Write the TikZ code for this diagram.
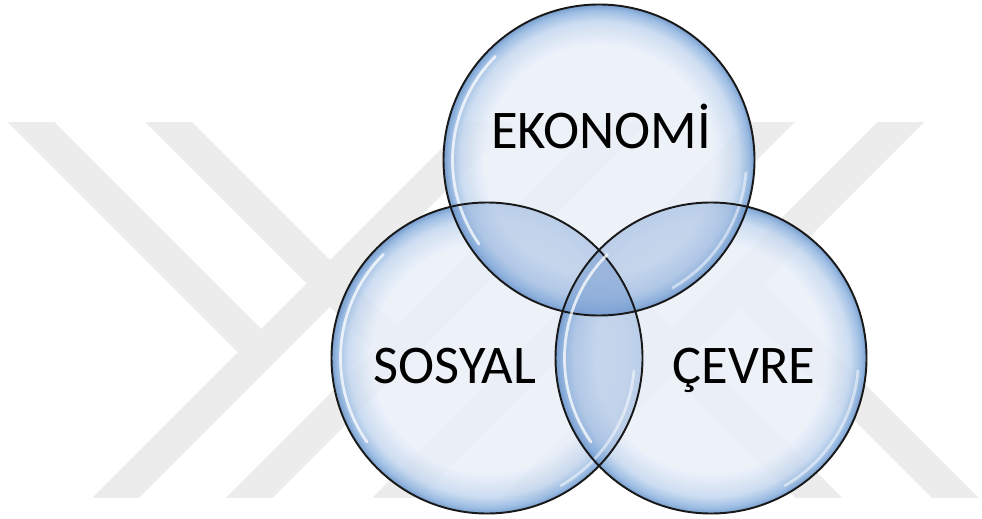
\documentclass[tikz,border=0pt]{standalone}
\usepackage{xcolor}
\usepackage{tikz}
\usepackage{fontspec}
\setmainfont{Carlito}
\definecolor{WM}{HTML}{ECECEC}
\definecolor{B0}{HTML}{EAF0F9}
\definecolor{B1}{HTML}{C4D7EF}
\definecolor{B2}{HTML}{8CB2DF}
\definecolor{B3}{HTML}{628FC8}
\definecolor{LENS}{HTML}{7A9FD2}
\pgfdeclareradialshading{bubshade}{\pgfpoint{0bp}{0bp}}{color(0bp)=(B0); color(18.5bp)=(B0); color(22.3bp)=(B1); color(24.1bp)=(B2); color(25bp)=(B3); color(50bp)=(B3)}

\begin{document}
\begin{tikzpicture}[
  band/.style={WM, line width=0.66cm, line cap=butt},
  bubble/.style={circle, minimum size=6.22cm, inner sep=0pt, shading=bubshade, fill opacity=0.85},
  lens/.style={fill=LENS, fill opacity=0.32},
  rim/.style={draw=black!90, line width=1.1pt},
  gloss/.style={white, line width=1.6pt, opacity=0.75, line cap=round},
  lbl/.style={font=\fontsize{31}{37}\selectfont, inner sep=0pt, anchor=base}]%
\fill[white] (0,0) rectangle (19.64,10.36);%
\useasboundingbox (0,0) rectangle (19.64,10.36);%
% watermark
\begin{scope}%
\clip (0,0.42) rectangle (19.64,7.90);%
\draw[band] (0.18,8.36) -- (5.225,3.315);%
\draw[band] (2.93,8.36) -- (7.935,3.355);%
\draw[band] (1.87,-0.04) -- (10.27,8.36);%
\draw[band] (4.54,-0.04) -- (12.94,8.36);%
\draw[band] (18.46,8.36) -- (10.06,-0.04);%
\draw[band] (15.87,8.36) -- (7.47,-0.04);%
\draw[band] (19.55,-0.04) -- (14.805,4.705);%
\draw[band] (16.82,-0.04) -- (12.145,4.635);%
\end{scope}%
% circles
\node[bubble] (sos) at (9.74,3.20) {};%
\node[bubble] (cev) at (14.22,3.20) {};%
\node[bubble] (eko) at (11.98,7.16) {};%
\begin{scope}%
\clip (eko.center) circle (3.11);%
\fill[lens] (sos.center) circle (3.11);%
\fill[lens] (cev.center) circle (3.11);%
\end{scope}%
\begin{scope}%
\clip (sos.center) circle (3.11);%
\fill[lens] (cev.center) circle (3.11);%
\end{scope}%
\foreach \c in {eko,sos,cev} {%
  \draw[gloss] ([shift={(135:2.93)}]\c.center) arc (135:215:2.93);%
  \draw[gloss, opacity=0.5] ([shift={(-60:2.95)}]\c.center) arc (-60:-5:2.95);%
  \draw[rim] (\c.center) circle (3.11);%
}%
% labels
\node[lbl] (ekolbl) at (12.02,7.394) {EKONOMİ};%
\node[lbl] (soslbl) at (9.10,2.694) {SOSYAL};%
\node[lbl] (cevlbl) at (14.88,2.700) {ÇEVRE};%
\end{tikzpicture}
\end{document}
